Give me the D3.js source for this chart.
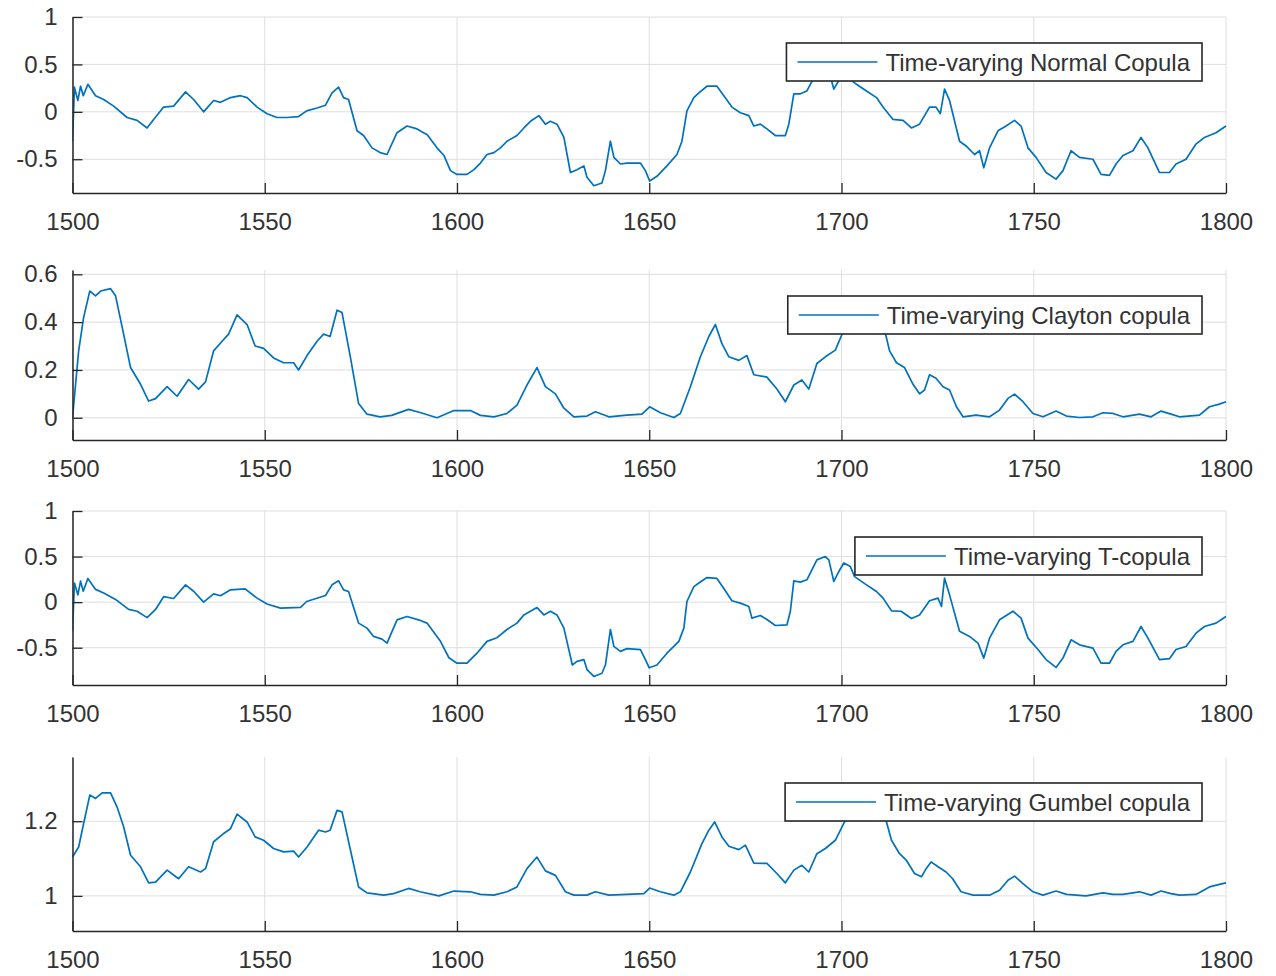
<!DOCTYPE html>
<html>
<head>
<meta charset="utf-8">
<script src="https://cdn.jsdelivr.net/npm/d3@7"></script>
<style>
  html, body { margin: 0; padding: 0; background: #ffffff; }
  svg { display: block; }
  text { font-family: "Liberation Sans", Arial, Helvetica, sans-serif; }
</style>
</head>
<body>
<svg id="chart" width="1276" height="976"></svg>
<script>
// ---------------- DATA ----------------
const xTicks = [1500, 1550, 1600, 1650, 1700, 1750, 1800];
const xTickLabels = ["1500", "1550", "1600", "1650", "1700", "1750", "1800"];

const seriesNames = [
  "Time-varying Normal Copula",
  "Time-varying Clayton copula",
  "Time-varying T-copula",
  "Time-varying Gumbel copula"
];

const yTicksNormal = [-0.5, 0, 0.5, 1];
const yTickLabelsNormal = ["-0.5", "0", "0.5", "1"];
const yTicksClayton = [0, 0.2, 0.4, 0.6];
const yTickLabelsClayton = ["0", "0.2", "0.4", "0.6"];
const yTicksT = [-0.5, 0, 0.5, 1];
const yTickLabelsT = ["-0.5", "0", "0.5", "1"];
const yTicksGumbel = [1, 1.2];
const yTickLabelsGumbel = ["1", "1.2"];

const normalCopula = [[1500,-0.31],[1500.5,0.26],[1501.4,0.12],[1502.1,0.27],[1502.8,0.17],[1504,0.29],[1506,0.17],[1508.1,0.13],[1510.7,0.06],[1514.2,-0.06],[1516.8,-0.09],[1519.4,-0.17],[1521.1,-0.08],[1523.7,0.05],[1526.3,0.06],[1529.4,0.21],[1531.5,0.13],[1534.1,0.0],[1536.7,0.12],[1538.5,0.10],[1541.1,0.15],[1543.7,0.17],[1545.4,0.15],[1548,0.05],[1550.6,-0.02],[1553.2,-0.06],[1555.8,-0.06],[1558.8,-0.05],[1560.9,0.01],[1563.6,0.04],[1565.8,0.07],[1567.5,0.20],[1569.2,0.26],[1570.5,0.15],[1571.8,0.13],[1574,-0.20],[1575.7,-0.25],[1577.9,-0.38],[1580,-0.43],[1581.8,-0.45],[1584.4,-0.22],[1587,-0.15],[1589.6,-0.18],[1591.3,-0.22],[1592.2,-0.24],[1594.8,-0.38],[1596.6,-0.46],[1598.3,-0.62],[1600,-0.66],[1602.6,-0.66],[1604.4,-0.61],[1606.1,-0.54],[1607.8,-0.45],[1609.6,-0.43],[1611.3,-0.38],[1613,-0.31],[1615.6,-0.25],[1617.4,-0.17],[1619.1,-0.10],[1621.3,-0.04],[1623,-0.13],[1624.3,-0.10],[1626,-0.13],[1627.8,-0.27],[1629.5,-0.64],[1631.2,-0.61],[1633,-0.57],[1633.8,-0.69],[1635.6,-0.78],[1637.7,-0.75],[1638.6,-0.62],[1639.9,-0.31],[1640.8,-0.48],[1642.5,-0.55],[1644.2,-0.54],[1647.7,-0.54],[1649,-0.62],[1650.1,-0.73],[1652,-0.68],[1654.6,-0.57],[1657.2,-0.45],[1658.5,-0.31],[1659.8,0.01],[1661.6,0.15],[1662.9,0.20],[1665,0.27],[1667.6,0.27],[1669.4,0.17],[1671.5,0.05],[1673.7,-0.01],[1675.9,-0.04],[1677.2,-0.15],[1678.9,-0.13],[1680.6,-0.18],[1682.8,-0.25],[1685.4,-0.25],[1686.3,-0.13],[1687.6,0.19],[1689.3,0.19],[1691,0.22],[1693.6,0.42],[1695.8,0.46],[1696.7,0.43],[1698,0.24],[1699.3,0.33],[1700.6,0.40],[1702,0.35],[1703.9,0.29],[1706.5,0.22],[1709.1,0.15],[1710.8,0.05],[1713.4,-0.08],[1716,-0.09],[1718.2,-0.17],[1720.3,-0.13],[1722.9,0.05],[1724.6,0.05],[1725.7,-0.02],[1726.8,0.24],[1728.1,0.12],[1730.7,-0.31],[1732.4,-0.36],[1734.6,-0.45],[1735.9,-0.41],[1737,-0.59],[1738.5,-0.38],[1740.7,-0.20],[1742.8,-0.15],[1745,-0.09],[1746.7,-0.15],[1748.5,-0.38],[1750.6,-0.48],[1753.2,-0.64],[1755.8,-0.71],[1757.6,-0.62],[1759.7,-0.41],[1761.9,-0.48],[1765.4,-0.50],[1767.5,-0.66],[1769.7,-0.67],[1771.4,-0.55],[1773.2,-0.46],[1775.8,-0.41],[1777.9,-0.27],[1779.7,-0.38],[1782.7,-0.64],[1785.3,-0.64],[1787,-0.55],[1789.6,-0.50],[1792.2,-0.34],[1794.4,-0.27],[1797.4,-0.22],[1800,-0.15]];

const claytonCopula = [[1500,0.0],[1501.6,0.28],[1502.9,0.42],[1504.5,0.53],[1506,0.51],[1507.3,0.53],[1509.9,0.54],[1511.2,0.51],[1512.9,0.38],[1515.1,0.21],[1517.7,0.14],[1519.8,0.07],[1521.6,0.08],[1524.6,0.13],[1527.2,0.09],[1530.2,0.16],[1532.8,0.12],[1534.6,0.15],[1536.7,0.28],[1538.9,0.32],[1540.6,0.35],[1542.8,0.43],[1545.4,0.39],[1547.5,0.30],[1549.7,0.29],[1552.3,0.25],[1554.9,0.23],[1557.5,0.23],[1558.8,0.20],[1561,0.26],[1563.6,0.32],[1565.3,0.35],[1567,0.34],[1568.8,0.45],[1570.1,0.44],[1572.2,0.26],[1574.4,0.06],[1576.6,0.015],[1580,0.004],[1583,0.01],[1587.4,0.035],[1590.4,0.022],[1594.8,0.0],[1599.2,0.03],[1603.5,0.03],[1606.1,0.01],[1609.6,0.004],[1613,0.018],[1615.6,0.053],[1618.2,0.137],[1620.8,0.21],[1623,0.13],[1625.6,0.10],[1627.8,0.04],[1630.4,0.004],[1633.8,0.007],[1636,0.025],[1639.5,0.004],[1644.2,0.011],[1648.1,0.015],[1650.1,0.046],[1652.9,0.021],[1656.4,0.001],[1658.1,0.018],[1660.7,0.13],[1663.3,0.255],[1665.5,0.34],[1667.2,0.39],[1668.9,0.31],[1670.7,0.255],[1673.3,0.24],[1675.4,0.26],[1677.2,0.18],[1680.6,0.17],[1683.2,0.12],[1685.4,0.067],[1687.6,0.137],[1689.7,0.158],[1691.5,0.12],[1693.6,0.227],[1695.8,0.255],[1698.4,0.283],[1700.6,0.367],[1702.5,0.42],[1704.5,0.47],[1706.5,0.49],[1708.5,0.47],[1710,0.42],[1711.2,0.367],[1712.5,0.28],[1714.3,0.23],[1716.4,0.21],[1718.6,0.14],[1720.3,0.10],[1721.6,0.116],[1722.9,0.18],[1724.6,0.165],[1726.4,0.13],[1728.1,0.116],[1729.9,0.046],[1731.6,0.004],[1735,0.011],[1738.5,0.004],[1741.1,0.032],[1743.3,0.081],[1745,0.099],[1747.2,0.067],[1749.8,0.018],[1752.4,0.004],[1755.8,0.028],[1758.5,0.007],[1761.9,0.001],[1765.4,0.004],[1768,0.021],[1770.6,0.018],[1773.2,0.004],[1777.5,0.015],[1780.5,0.004],[1783.1,0.028],[1785.7,0.015],[1787.9,0.004],[1793.1,0.011],[1795.7,0.046],[1798.3,0.057],[1800,0.067]];

const tCopula = [[1500,-0.32],[1500.5,0.21],[1501.4,0.08],[1502.1,0.23],[1502.8,0.12],[1504,0.26],[1506,0.14],[1508.1,0.10],[1511.2,0.03],[1514.6,-0.08],[1516.8,-0.10],[1519.4,-0.17],[1521.6,-0.08],[1523.7,0.06],[1526.3,0.04],[1529.4,0.19],[1531.5,0.12],[1534.1,0.0],[1536.7,0.09],[1538.5,0.07],[1541.1,0.135],[1544.9,0.146],[1548,0.044],[1550.6,-0.02],[1554.1,-0.066],[1559.3,-0.058],[1560.9,0.007],[1565.8,0.073],[1567.5,0.19],[1569.2,0.234],[1570.5,0.135],[1571.8,0.117],[1574.4,-0.23],[1576.6,-0.285],[1578.3,-0.376],[1580.5,-0.406],[1581.8,-0.45],[1584.4,-0.194],[1587,-0.157],[1590,-0.194],[1592.2,-0.23],[1595.7,-0.43],[1597.9,-0.61],[1600,-0.67],[1602.6,-0.67],[1605.2,-0.56],[1607.8,-0.43],[1610.4,-0.39],[1613,-0.30],[1615.6,-0.23],[1617.4,-0.14],[1620.8,-0.06],[1622.6,-0.14],[1624.3,-0.10],[1626,-0.14],[1627.8,-0.285],[1630,-0.69],[1631.2,-0.65],[1633,-0.63],[1633.8,-0.74],[1635.6,-0.815],[1637.7,-0.78],[1638.6,-0.69],[1639.9,-0.30],[1640.8,-0.486],[1642.5,-0.54],[1644.2,-0.51],[1647.7,-0.52],[1649,-0.63],[1650,-0.72],[1652,-0.69],[1654.6,-0.56],[1657.7,-0.43],[1659,-0.285],[1659.8,0.007],[1661.6,0.17],[1662.9,0.21],[1665,0.27],[1667.6,0.26],[1669.4,0.15],[1671.5,0.015],[1673.7,-0.011],[1675.9,-0.048],[1676.7,-0.175],[1678.9,-0.146],[1680.6,-0.19],[1682.8,-0.256],[1685.8,-0.25],[1686.7,-0.10],[1687.6,0.234],[1689.3,0.22],[1691,0.245],[1693.6,0.464],[1695.8,0.50],[1696.7,0.464],[1698,0.227],[1699.3,0.336],[1700.6,0.43],[1702.3,0.39],[1703.4,0.28],[1706.5,0.19],[1709.1,0.117],[1710.8,0.044],[1713,-0.095],[1715.5,-0.10],[1718.2,-0.18],[1720.3,-0.14],[1722.9,0.015],[1725.1,0.044],[1726,-0.048],[1726.8,0.263],[1728.1,0.08],[1730.7,-0.32],[1733.3,-0.376],[1735.5,-0.45],[1737,-0.614],[1738.5,-0.395],[1741.1,-0.194],[1744.6,-0.10],[1746.7,-0.175],[1748.5,-0.395],[1751.1,-0.52],[1753.2,-0.63],[1755.8,-0.716],[1757.6,-0.614],[1759.7,-0.413],[1761.9,-0.468],[1765.4,-0.504],[1767.5,-0.67],[1769.7,-0.67],[1771.4,-0.54],[1773.2,-0.468],[1775.8,-0.43],[1777.9,-0.267],[1779.7,-0.395],[1782.7,-0.63],[1785.3,-0.62],[1787,-0.52],[1789.6,-0.486],[1792.2,-0.34],[1794.4,-0.267],[1797.4,-0.23],[1800,-0.157]];

const gumbelCopula = [[1500,1.104],[1501.6,1.131],[1502.9,1.194],[1504.5,1.27],[1506,1.261],[1507.7,1.276],[1509.9,1.276],[1511.6,1.238],[1513.3,1.185],[1515.1,1.109],[1517.7,1.078],[1519.8,1.035],[1521.6,1.037],[1524.6,1.069],[1527.6,1.046],[1530.2,1.078],[1533.3,1.064],[1534.6,1.073],[1536.7,1.145],[1539.3,1.167],[1541.1,1.18],[1542.8,1.219],[1545.4,1.198],[1547.5,1.158],[1549.7,1.149],[1552.3,1.127],[1554.9,1.118],[1557.5,1.12],[1558.8,1.104],[1561,1.131],[1564,1.176],[1565.8,1.171],[1567,1.176],[1568.8,1.229],[1570.1,1.225],[1572.2,1.127],[1574.4,1.024],[1576.6,1.008],[1580.9,1.002],[1583.5,1.006],[1587.4,1.02],[1590.4,1.011],[1595.3,1.0],[1599.2,1.013],[1603.5,1.011],[1606.1,1.004],[1609.6,1.002],[1613,1.011],[1615.6,1.024],[1618.2,1.073],[1620.8,1.104],[1623,1.067],[1625.6,1.055],[1628.2,1.011],[1630.4,1.002],[1633.8,1.002],[1636,1.011],[1639.5,1.002],[1644.2,1.004],[1648.6,1.006],[1650.1,1.021],[1652.9,1.011],[1656.4,1.002],[1658.1,1.011],[1660.7,1.064],[1663.7,1.14],[1665.5,1.176],[1667,1.198],[1668.9,1.158],[1670.7,1.133],[1673.3,1.124],[1675,1.136],[1677.2,1.088],[1680.6,1.087],[1683.2,1.06],[1685.4,1.035],[1687.6,1.069],[1689.7,1.082],[1691.5,1.064],[1693.6,1.113],[1695.8,1.127],[1698.4,1.149],[1700.6,1.194],[1702.5,1.23],[1704.5,1.27],[1706.5,1.29],[1708.5,1.27],[1710.3,1.23],[1711.7,1.198],[1713,1.149],[1715.1,1.113],[1716.9,1.095],[1719,1.06],[1720.8,1.051],[1722,1.073],[1723.3,1.091],[1725.1,1.078],[1727.2,1.064],[1728.9,1.046],[1731.1,1.011],[1734.2,1.002],[1738.5,1.002],[1741.1,1.015],[1743.3,1.042],[1745,1.053],[1747.2,1.033],[1749.8,1.011],[1752.4,1.002],[1755.8,1.013],[1758.5,1.004],[1763.6,1.0],[1768,1.008],[1770.6,1.004],[1773.2,1.004],[1777.5,1.011],[1780.5,1.002],[1783.1,1.013],[1785.7,1.006],[1787.9,1.002],[1792.2,1.004],[1795.7,1.024],[1798.3,1.031],[1800,1.035]];

// axis limits (as set on the original figure)
const xLimits = [1500, 1800];
const yLimitsNormal = [-0.856, 1];
const yLimitsClayton = [-0.093, 0.618];
const yLimitsT = [-0.909, 1];
const yLimitsGumbel = [0.906, 1.372];

// ---------------- LAYOUT ----------------
const left = 72.5, right = 1226;
const panels = [
  { data: normalCopula,  name: seriesNames[0], yLim: yLimitsNormal,  ticks: yTicksNormal,  labels: yTickLabelsNormal,  top: 17,  bottom: 193 },
  { data: claytonCopula, name: seriesNames[1], yLim: yLimitsClayton, ticks: yTicksClayton, labels: yTickLabelsClayton, top: 270, bottom: 440 },
  { data: tCopula,       name: seriesNames[2], yLim: yLimitsT,       ticks: yTicksT,       labels: yTickLabelsT,       top: 511, bottom: 685 },
  { data: gumbelCopula,  name: seriesNames[3], yLim: yLimitsGumbel,  ticks: yTicksGumbel,  labels: yTickLabelsGumbel,  top: 757, bottom: 931 }
];

const FONT = 24;
const AX = "#262626";
const TXT = "#333333";
const GRID = "#dedede";
const LINE = "#0072BD";
const tickLen = 10;

const svg = d3.select("#chart");
svg.append("rect").attr("width", 1276).attr("height", 976).attr("fill", "#fff");

const x = d3.scaleLinear().domain(xLimits).range([left, right]);

panels.forEach((p, i) => {
  const y = d3.scaleLinear().domain(p.yLim).range([p.bottom, p.top]);
  const g = svg.append("g");

  // grid
  g.append("g").selectAll("line").data(xTicks).join("line")
    .attr("x1", d => x(d)).attr("x2", d => x(d))
    .attr("y1", p.top).attr("y2", p.bottom)
    .attr("stroke", GRID).attr("stroke-width", 1);
  g.append("g").selectAll("line").data(p.ticks).join("line")
    .attr("x1", left).attr("x2", right)
    .attr("y1", d => y(d)).attr("y2", d => y(d))
    .attr("stroke", GRID).attr("stroke-width", 1);

  // clip path
  const clipId = "clip" + i;
  svg.append("clipPath").attr("id", clipId).append("rect")
    .attr("x", left).attr("y", p.top - 2).attr("width", right - left + 2).attr("height", p.bottom - p.top + 2);

  // series line
  const line = d3.line().x(d => x(d[0])).y(d => y(d[1]));
  g.append("path").datum(p.data)
    .attr("d", line)
    .attr("fill", "none")
    .attr("stroke", LINE)
    .attr("stroke-width", 1.7)
    .attr("stroke-linejoin", "round")
    .attr("clip-path", `url(#${clipId})`);

  // x axis (inward ticks, MATLAB style)
  const xAxis = d3.axisBottom(x).tickValues(xTicks)
    .tickFormat((d, k) => xTickLabels[k]).tickSizeInner(-tickLen).tickSizeOuter(0).tickPadding(20);
  const gx = g.append("g").attr("transform", `translate(0,${p.bottom})`).call(xAxis);
  gx.select(".domain").attr("stroke", AX).attr("stroke-width", 1.5);
  gx.selectAll(".tick line").attr("stroke", AX).attr("stroke-width", 1.3);
  gx.selectAll(".tick text").attr("fill", TXT).attr("font-size", FONT)
    .attr("font-family", "Liberation Sans, Arial, sans-serif");

  // y axis
  const yAxis = d3.axisLeft(y).tickValues(p.ticks)
    .tickFormat((d, k) => p.labels[k]).tickSizeInner(-tickLen).tickSizeOuter(0).tickPadding(15);
  const gy = g.append("g").attr("transform", `translate(${left},0)`).call(yAxis);
  gy.select(".domain").attr("stroke", AX).attr("stroke-width", 1.5);
  gy.selectAll(".tick line").attr("stroke", AX).attr("stroke-width", 1.3);
  gy.selectAll(".tick text").attr("fill", TXT).attr("font-size", FONT)
    .attr("font-family", "Liberation Sans, Arial, sans-serif");

  // legend (northeast)
  const lg = g.append("g");
  const box = lg.append("rect").attr("fill", "#fff").attr("stroke", AX).attr("stroke-width", 1.6);
  const txt = lg.append("text").text(p.name)
    .attr("font-size", FONT).attr("fill", TXT)
    .attr("font-family", "Liberation Sans, Arial, sans-serif");
  const tw = txt.node().getComputedTextLength();
  const padL = 11, lineLen = 80, gap = 8, padR = 12, boxH = 38;
  const boxW = padL + lineLen + gap + tw + padR;
  const bx = 1202 - boxW, by = p.top + 26;
  box.attr("x", bx).attr("y", by).attr("width", boxW).attr("height", boxH);
  lg.append("line")
    .attr("x1", bx + padL).attr("x2", bx + padL + lineLen)
    .attr("y1", by + boxH / 2).attr("y2", by + boxH / 2)
    .attr("stroke", LINE).attr("stroke-width", 1.7);
  txt.attr("x", bx + padL + lineLen + gap).attr("y", by + boxH / 2).attr("dy", "0.36em");
});
</script>
</body>
</html>
